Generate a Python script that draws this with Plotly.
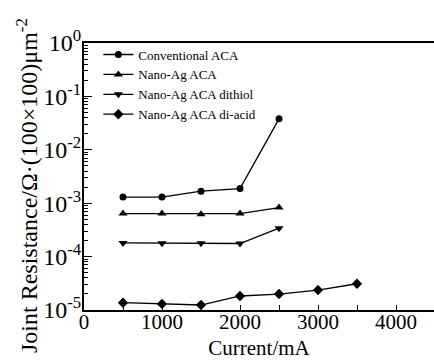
import plotly.graph_objects as go

# ---- data ----
current_a = [500, 1000, 1500, 2000, 2500]
current_b = [500, 1000, 1500, 2000, 2500, 3000, 3500]

conventional_aca = [1.30e-3, 1.30e-3, 1.68e-3, 1.88e-3, 3.8e-2]
nano_ag_aca = [6.4e-4, 6.4e-4, 6.2e-4, 6.4e-4, 8.3e-4]
nano_ag_dithiol = [1.80e-4, 1.78e-4, 1.77e-4, 1.76e-4, 3.4e-4]
nano_ag_diacid = [1.37e-5, 1.30e-5, 1.24e-5, 1.83e-5, 1.99e-5, 2.36e-5, 3.1e-5]

series_names = ["Conventional ACA", "Nano-Ag ACA", "Nano-Ag ACA dithiol", "Nano-Ag ACA di-acid"]

x_tick_vals = [0, 1000, 2000, 3000, 4000]
x_tick_text = ["0", "1000", "2000", "3000", "4000"]
y_tick_vals = [1e-5, 1e-4, 1e-3, 1e-2, 1e-1, 1e0]
y_tick_text = ["10<sup>-5</sup>", "10<sup>-4</sup>", "10<sup>-3</sup>",
               "10<sup>-2</sup>", "10<sup>-1</sup>", "10<sup>0</sup>"]
y_title = "Joint Resistance/Ω·(100×100)μm<sup>-2</sup>"
x_title = "Current/mA"

FONT = "Liberation Serif"

fig = go.Figure()
specs = [
    (current_a, conventional_aca, "circle", 7),
    (current_a, nano_ag_aca, "triangle-up", 8),
    (current_a, nano_ag_dithiol, "triangle-down", 8),
    (current_b, nano_ag_diacid, "diamond", 8),
]
for name, (xs, ys, sym, size) in zip(series_names, specs):
    fig.add_trace(go.Scatter(
        x=xs, y=ys, name=name, mode="lines+markers",
        line=dict(color="black", width=1.3),
        marker=dict(symbol=sym, size=size, color="black"),
    ))

minor_y = [k * 10.0 ** e for e in range(-5, 0) for k in range(2, 10)]

fig.update_layout(
    width=434, height=363,
    margin=dict(l=84, r=0, t=43, b=53),
    paper_bgcolor="white", plot_bgcolor="white",
    font=dict(family=FONT, color="black"),
    showlegend=True,
    legend=dict(
        x=0.041, y=1.013, xanchor="left", yanchor="top",
        font=dict(family=FONT, size=13, color="black"),
        bgcolor="rgba(0,0,0,0)", borderwidth=0,
    ),
    xaxis=dict(
        range=[0, 4487], automargin=False,
        showline=True, linecolor="black", linewidth=2, mirror=True,
        showgrid=False, zeroline=False,
        tickmode="array", tickvals=x_tick_vals, ticktext=x_tick_text,
        ticks="inside", ticklen=5, tickwidth=1, tickcolor="black",
        ticklabelstandoff=-8,
        minor=dict(tickmode="linear", tick0=0, dtick=500, ticks="inside",
                   ticklen=5, tickwidth=1, tickcolor="black", showgrid=False),
        tickfont=dict(family=FONT, size=21, color="black"),
        title=dict(text=x_title, font=dict(family=FONT, size=21, color="black"),
                   standoff=7),
    ),
    yaxis=dict(
        type="log", range=[-5, 0], automargin=False,
        showline=True, linecolor="black", linewidth=2, mirror=False,
        showgrid=False, zeroline=False,
        tickmode="array", tickvals=y_tick_vals, ticktext=y_tick_text,
        ticks="inside", ticklen=8, tickwidth=1, tickcolor="black",
        ticklabelstandoff=-4,
        minor=dict(tickmode="array", tickvals=minor_y, ticks="inside",
                   ticklen=4, tickwidth=1, tickcolor="black", showgrid=False),
        tickfont=dict(family=FONT, size=24, color="black"),
    ),
    annotations=[dict(
        text=y_title, textangle=-90, showarrow=False,
        xref="paper", yref="paper",
        x=-(84 - 27) / 350, y=(310 - 186) / 267,
        xanchor="center", yanchor="middle",
        font=dict(family=FONT, size=24, color="black"),
    )],
)

fig.write_html("out.html", config={"displayModeBar": False},
               post_script="document.body.style.margin='0';")
